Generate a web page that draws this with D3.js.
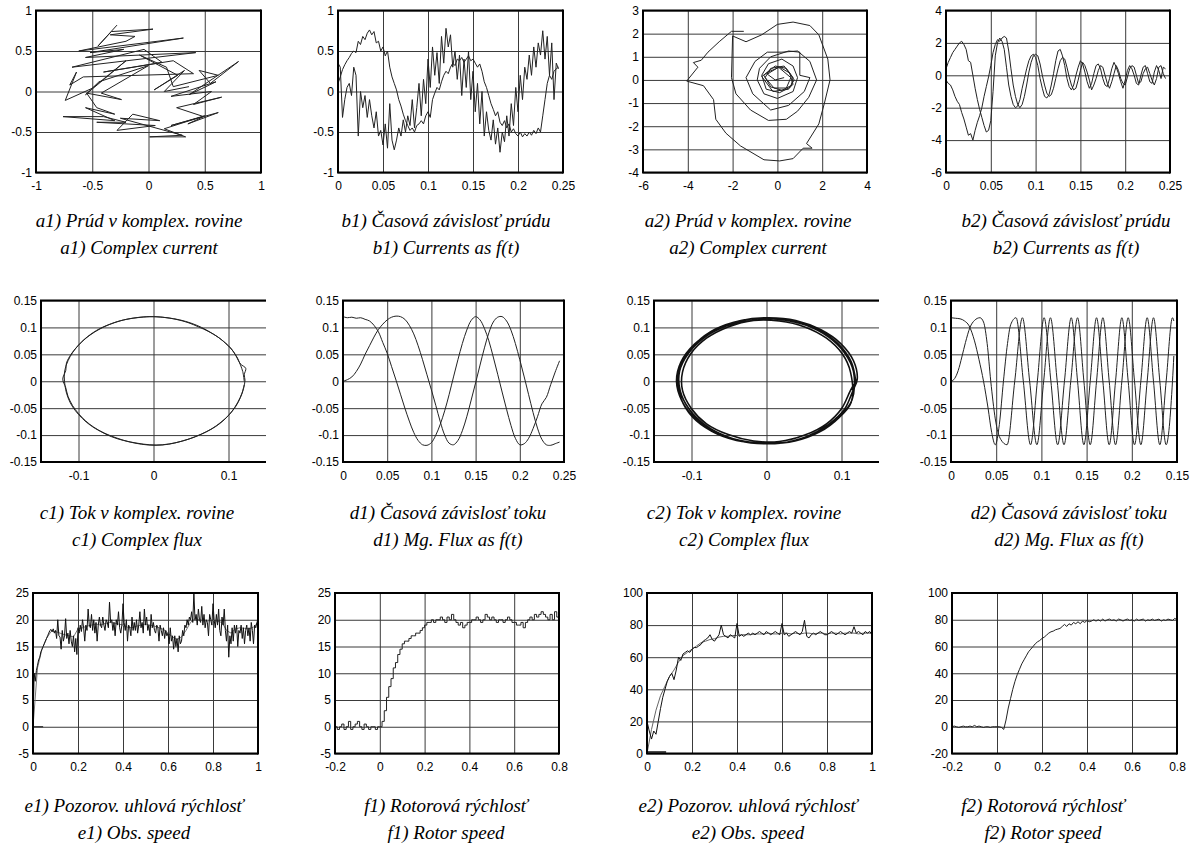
<!DOCTYPE html>
<html>
<head>
<meta charset="utf-8">
<script src="https://cdn.jsdelivr.net/npm/d3@7"></script>
<style>
body { margin: 0; background: #fff; }
svg { display: block; }
.cap { font-family: "Liberation Serif", "Times New Roman", serif; font-style: italic; font-size: 19px; fill: #000; }
</style>
</head>
<body>
<svg id="fig" width="1194" height="847"></svg>
<script>
// ---- data ----

// a1: complex current (x, y)
var a1Path = [[-0.28,0.82],[-0.45,0.56],[-0.33,0.74],[0.04,0.77],[-0.34,0.70],[-0.12,0.68],[-0.2,0.62],[-0.62,0.50],[0.31,0.66],[-0.52,0.48],[-0.22,0.52],[-0.56,0.42],[0.42,0.48],[-0.68,0.30],[-0.04,0.52],[0.12,0.36],[-0.4,0.24],[0.22,0.38],[0.4,0.22],[-0.58,0.18],[-0.7,0.08],[-0.64,0.24],[-0.74,-0.11],[-0.5,0.04],[-0.2,0.38],[-0.56,-0.04],[-0.44,0.12],[0.0,0.32],[-0.42,-0.02],[-0.24,-0.1],[-0.55,-0.02],[-0.46,-0.2],[-0.3,-0.28],[-0.56,-0.2],[-0.3,-0.36],[-0.76,-0.31],[-0.4,-0.31],[-0.2,-0.38],[-0.46,-0.38],[0.06,-0.42],[-0.28,-0.48],[-0.14,-0.28],[0.1,-0.36],[-0.25,-0.33],[0.3,-0.54],[0.01,-0.56],[0.33,-0.56],[0.14,-0.46],[0.5,-0.3],[0.2,-0.42],[0.62,-0.26],[0.35,-0.4],[0.49,-0.31],[0.25,-0.2],[0.65,-0.07],[0.4,-0.16],[0.56,0.0],[0.2,-0.06],[0.6,0.12],[0.36,-0.04],[0.8,0.37],[0.55,0.1],[0.45,0.26],[0.62,0.2],[0.22,0.06],[0.16,0.3],[-0.08,0.45],[0.26,0.2],[0.05,0.02],[0.32,0.26],[0.14,0.0],[0.36,0.06]];

// b1: currents, sampled every 2.5 ms
var b1Step = 0.0025;
var b1A = [0.10,0.18,0.27,0.33,0.38,0.42,0.47,0.50,0.48,0.62,0.58,0.68,0.64,0.72,0.76,0.70,0.74,0.60,0.62,0.50,0.55,0.44,0.50,0.30,0.18,0.10,0.02,-0.10,-0.18,-0.28,-0.36,-0.42,-0.48,-0.45,-0.50,-0.42,-0.40,-0.36,-0.40,-0.30,-0.25,-0.32,-0.10,-0.02,0.05,0.02,0.12,0.20,0.25,0.22,0.30,0.35,0.32,0.40,0.38,0.42,0.36,0.40,0.44,0.38,0.40,0.35,0.30,0.34,0.25,0.12,0.05,-0.05,-0.15,-0.22,-0.30,-0.25,-0.38,-0.42,-0.36,-0.45,-0.40,-0.50,-0.46,-0.52,-0.55,-0.50,-0.56,-0.52,-0.55,-0.50,-0.54,-0.48,-0.52,-0.45,-0.50,-0.30,-0.10,0.10,0.20,0.15,0.25,0.28,0.30];
var b1B = [0.35,0.30,-0.32,-0.10,0.05,0.10,-0.05,0.30,0.20,-0.55,0.00,-0.20,-0.05,-0.32,-0.10,-0.30,-0.45,-0.25,-0.55,-0.48,-0.66,-0.40,-0.70,-0.15,-0.60,-0.72,-0.60,-0.45,-0.55,-0.35,-0.50,-0.30,-0.42,-0.10,-0.45,-0.20,0.10,-0.30,0.15,-0.15,0.40,0.05,0.55,0.20,0.48,0.10,0.68,0.35,0.78,0.55,0.70,0.30,0.50,0.15,0.45,-0.05,0.40,0.05,0.50,-0.10,0.25,-0.25,0.10,-0.40,0.00,-0.55,-0.25,-0.48,-0.60,-0.35,-0.65,-0.45,-0.75,-0.50,-0.62,-0.30,-0.55,-0.15,-0.42,0.05,-0.25,0.20,-0.10,0.30,0.15,0.45,0.20,0.55,0.30,0.60,0.45,0.75,0.40,0.68,0.20,0.60,-0.10,0.35,0.28];

// a2: complex current, second drive (x, y)
var a2Path = [[-1.5,2.1],[-2.05,2.1],[-2.6,1.65],[-3.1,1.2],[-3.4,0.85],[-3.75,0.75],[-3.55,0.55],[-4.05,-0.05],[-3.3,-0.25],[-2.85,-0.85],[-2.75,-1.7],[-2.3,-2.3],[-1.65,-2.85],[-0.6,-3.45],[0.1,-3.5],[0.7,-3.4],[1.15,-2.95],[1.55,-2.95],[1.3,-2.75],[1.85,-1.9],[2.1,-1.0],[2.35,0.0],[2.25,0.9],[1.85,1.95],[1.45,2.35],[0.7,2.5],[0.0,2.4],[-0.7,1.95],[-1.4,1.65],[-2.0,1.9],[-2.05,0.1],[-1.85,-0.6],[-1.2,-1.3],[-0.4,-1.75],[0.4,-1.7],[0.9,-1.35],[1.4,-0.75],[1.75,0.0],[1.45,0.8],[0.9,1.25],[0.2,1.2],[-0.45,1.2],[-1.0,0.8],[-1.4,0.1],[-1.1,-0.6],[-0.3,-1.3],[0.5,-1.1],[1.2,-0.5],[1.45,0.1],[1.0,0.2],[1.0,1.2],[0.5,1.25],[-0.3,1.0],[-0.8,0.5],[-0.9,0.0],[-0.6,-0.6],[0.0,-0.8],[0.7,-0.5],[0.9,0.1],[0.7,0.6],[0.2,0.9],[-0.4,0.7],[-0.7,0.2],[-0.5,-0.4],[0.1,-0.55],[0.6,-0.3],[0.7,0.1],[0.4,0.5],[-0.1,0.6],[-0.5,0.3],[-0.6,0.2],[-0.3,-0.3],[0.2,-0.45],[0.7,-0.2],[0.55,0.3],[0.1,0.55],[-0.4,0.35],[-0.7,0.15],[-0.2,-0.5],[0.5,-0.4],[0.75,0.0],[0.3,0.6],[-0.3,0.5],[-0.55,0.1],[-0.15,-0.35],[0.4,-0.35],[0.6,0.1],[0.05,0.55],[-0.45,0.25],[-0.1,0.0],[0.3,0.1]];

// b2: currents, second drive
var b2Step = 0.0025;
var b2A = [0.4,0.8,1.1,1.4,1.6,1.8,2.0,2.1,1.9,1.6,0.9,0.8,0.0,-0.8,-1.5,-2.1,-2.6,-3.1,-3.5,-3.4,-2.8,-1.0,1.2,2.0,2.3,2.1,1.6,0.5,-0.6,-1.3,-1.8,-2.0,-1.9,-1.5,-0.8,-0.2,0.4,0.9,1.2,1.3,1.1,0.6,-0.2,-0.8,-1.3,-1.4,-1.2,-0.6,0.1,0.9,1.5,1.6,1.2,0.6,-0.2,-0.7,-0.9,-0.6,0.0,0.5,0.9,0.7,0.2,-0.4,-0.8,-0.5,0.1,0.6,0.7,0.4,-0.2,-0.6,-0.7,-0.2,0.4,0.8,0.5,0.1,-0.4,-0.8,-0.3,0.3,0.6,0.4,0.0,-0.5,-0.6,0.0,0.5,0.6,0.1,-0.4,-0.5,0.2,0.6,0.3,-0.2,0.5,0.4];
var b2B = [-0.3,-0.5,-0.6,-0.9,-1.3,-1.6,-1.8,-2.3,-2.7,-3.2,-3.7,-3.6,-4.0,-3.4,-2.9,-2.5,-2.0,-1.3,-0.7,-0.1,0.6,1.4,1.9,2.2,2.1,2.3,2.4,2.3,1.5,0.4,-0.6,-1.3,-1.8,-2.0,-1.8,-1.3,-0.6,0.2,0.8,1.2,1.3,1.2,0.7,0.0,-0.6,-1.1,-1.3,-1.2,-0.8,-0.2,0.4,0.9,1.1,1.0,0.5,-0.1,-0.6,-0.9,-0.8,-0.3,0.3,0.8,0.6,0.2,-0.3,-0.9,-0.6,-0.2,0.3,0.6,0.5,0.0,-0.5,-0.8,-0.4,0.1,0.6,0.3,-0.2,-0.5,-0.6,-0.1,0.4,0.6,0.5,0.0,-0.5,-0.4,0.1,0.4,0.5,0.1,-0.3,-0.6,-0.2,0.5,0.6,0.1,-0.2];

// c1: flux in complex plane (two passes)
var c1Path = [[0.121,0.000],[0.119,0.018],[0.116,0.030],[0.112,0.043],[0.106,0.056],[0.098,0.068],[0.088,0.080],[0.077,0.090],[0.064,0.100],[0.050,0.108],[0.035,0.114],[0.018,0.118],[0.000,0.120],[-0.018,0.119],[-0.036,0.115],[-0.052,0.109],[-0.066,0.101],[-0.079,0.091],[-0.090,0.080],[-0.100,0.067],[-0.108,0.053],[-0.114,0.038],[-0.118,0.022],[-0.119,0.008],[-0.118,-0.008],[-0.116,-0.022],[-0.111,-0.040],[-0.104,-0.055],[-0.095,-0.069],[-0.084,-0.082],[-0.071,-0.093],[-0.056,-0.103],[-0.040,-0.110],[-0.022,-0.115],[-0.005,-0.118],[0.012,-0.118],[0.030,-0.114],[0.048,-0.107],[0.064,-0.098],[0.078,-0.088],[0.090,-0.076],[0.101,-0.062],[0.110,-0.046],[0.116,-0.030],[0.120,-0.014],[0.122,0.002],
  [0.121,0.012],[0.123,0.024],[0.116,0.032],[0.110,0.047],[0.104,0.060],[0.096,0.071],[0.086,0.082],[0.074,0.092],[0.060,0.101],[0.046,0.109],[0.030,0.115],[0.012,0.119],[-0.005,0.120],[-0.022,0.118],[-0.040,0.114],[-0.056,0.107],[-0.070,0.099],[-0.082,0.089],[-0.093,0.077],[-0.102,0.064],[-0.110,0.050],[-0.116,0.034],[-0.117,0.020],[-0.121,0.004],[-0.117,-0.012],[-0.114,-0.028],[-0.108,-0.045],[-0.100,-0.060],[-0.091,-0.073],[-0.080,-0.085],[-0.066,-0.096],[-0.050,-0.105],[-0.034,-0.112],[-0.016,-0.117],[0.002,-0.119],[0.020,-0.117],[0.036,-0.112],[0.054,-0.104],[0.069,-0.095],[0.083,-0.084],[0.094,-0.072],[0.104,-0.057],[0.112,-0.040],[0.118,-0.022],[0.121,-0.006]];

// d1: flux components, sampled every 5 ms
var d1Step = 0.005;
var d1A = [0.120,0.118,0.119,0.117,0.118,0.115,0.112,0.104,0.092,0.072,0.052,0.027,0.002,-0.024,-0.050,-0.074,-0.095,-0.110,-0.118,-0.119,-0.114,-0.100,-0.080,-0.055,-0.025,0.008,0.040,0.070,0.095,0.113,0.120,0.114,0.098,0.075,0.045,0.013,-0.020,-0.052,-0.082,-0.106,-0.118,-0.116,-0.106,-0.088,-0.066,-0.042,-0.030,-0.006,0.017,0.038];
var d1B = [0.000,0.003,0.008,0.018,0.032,0.050,0.066,0.082,0.096,0.106,0.114,0.119,0.121,0.120,0.115,0.104,0.088,0.066,0.040,0.012,-0.016,-0.045,-0.075,-0.100,-0.115,-0.118,-0.110,-0.092,-0.066,-0.035,-0.003,0.030,0.062,0.090,0.110,0.119,0.120,0.112,0.095,0.070,0.040,0.008,-0.025,-0.058,-0.087,-0.108,-0.118,-0.119,-0.116,-0.113];

// c2: flux in complex plane, second drive (several loops)
var c2Path = [[0.119,0.000],[0.113,0.036],[0.096,0.069],[0.070,0.095],[0.037,0.111],[0.000,0.117],[-0.037,0.112],[-0.070,0.094],[-0.096,0.069],[-0.114,0.036],[-0.120,0.000],[-0.113,-0.036],[-0.096,-0.068],[-0.069,-0.094],[-0.036,-0.111],[0.002,-0.116],[0.038,-0.111],[0.071,-0.094],[0.097,-0.067],[0.114,-0.035],
  [0.116,0.018],[0.104,0.053],[0.083,0.082],[0.053,0.104],[0.018,0.115],[-0.018,0.116],[-0.053,0.103],[-0.082,0.082],[-0.104,0.052],[-0.116,0.018],[-0.115,-0.018],[-0.103,-0.052],[-0.082,-0.081],[-0.052,-0.103],[-0.018,-0.114],[0.018,-0.115],[0.053,-0.103],[0.082,-0.081],[0.104,-0.052],[0.115,-0.018],
  [0.121,0.004],[0.116,0.038],[0.099,0.070],[0.072,0.096],[0.039,0.113],[0.003,0.118],[-0.034,0.113],[-0.068,0.097],[-0.094,0.071],[-0.112,0.039],[-0.118,0.004],[-0.114,-0.032],[-0.099,-0.066],[-0.073,-0.093],[-0.040,-0.110],[-0.003,-0.115],[0.034,-0.112],[0.067,-0.096],[0.094,-0.071],[0.113,-0.039],
  [0.112,0.017],[0.101,0.051],[0.080,0.080],[0.051,0.101],[0.017,0.112],[-0.017,0.113],[-0.051,0.101],[-0.080,0.080],[-0.101,0.051],[-0.112,0.017],[-0.112,-0.017],[-0.100,-0.051],[-0.080,-0.079],[-0.051,-0.099],[-0.017,-0.111],[0.017,-0.112],[0.051,-0.100],[0.080,-0.079],[0.100,-0.051],[0.112,-0.017],[0.119,0.000]];

// d2: flux components, second drive (t, value) at peaks and crossings
var d2A = [[0,0.118],[0.005,0.117],[0.010,0.116],[0.015,0.112],[0.020,0.103],[0.026,0.075],[0.031,0.040],[0.036,0],[0.041,-0.050],[0.045,-0.095],[0.049,-0.118],[0.0535,-0.080],[0.058,0],[0.0625,0.070],[0.066,0.105],[0.072,0.118],[0.080,0],[0.088,-0.118],[0.0955,0],[0.103,0.118],[0.1105,0],[0.118,-0.118],[0.1255,0],[0.133,0.118],[0.140,0],[0.147,-0.118],[0.154,0],[0.161,0.118],[0.168,0],[0.175,-0.118],[0.182,0],[0.189,0.118],[0.196,0],[0.203,-0.118],[0.210,0],[0.217,0.118],[0.224,0],[0.231,-0.118],[0.238,0],[0.245,0.118],[0.2465,0.112]];
var d2B = [[0,0],[0.004,0.005],[0.008,0.020],[0.012,0.045],[0.016,0.072],[0.021,0.100],[0.026,0.113],[0.032,0.118],[0.036,0.110],[0.040,0.070],[0.044,0],[0.049,-0.070],[0.055,-0.108],[0.062,-0.118],[0.0705,0],[0.079,0.118],[0.087,0],[0.095,-0.118],[0.1025,0],[0.110,0.118],[0.1175,0],[0.125,-0.118],[0.1325,0],[0.140,0.118],[0.147,0],[0.154,-0.118],[0.161,0],[0.168,0.118],[0.175,0],[0.182,-0.118],[0.189,0],[0.196,0.118],[0.203,0],[0.210,-0.118],[0.217,0],[0.224,0.118],[0.231,0],[0.238,-0.118],[0.245,0],[0.2465,0.047]];

// e1: observed speed, noisy estimate every 5 ms, filtered every 20 ms
var e1Step = 0.005;
var e1Noisy = [0,10,8.5,10.5,11.5,12.5,13,14,14.5,15,
  15.5,16,16.5,17,17.5,18,18.2,17.8,18.3,17.5,
  18,16.5,20,17,16.8,14.5,18,16,17,20.2,
  16.5,17.5,15.5,18,16,15,17,14,16.5,13.5,
  18.5,17.5,19,17.8,20,18.5,16,19,18,22,
  19,18.5,21,18,20,17.5,19.5,16,19,20.5,
  19,18.5,20.5,19,18,20,19.5,18.5,23.3,19.5,
  20,18,19.5,17,20,19,21.5,18.5,17.5,19,
  23,19.5,18,20,16,19,18.5,17,20.5,18,
  19.5,18,20,17.5,19,21.5,18.5,19.5,17.5,22,
  19,20.5,18,19,17,21,18.5,19.5,18,17.5,
  19,18.5,16,19,18,17,18.5,16.5,18,17,
  17.5,15.5,18.5,16,17,14.5,17,15,16.5,14,
  17,15.5,16,18,17,19,18.5,20,19,20.5,
  20,21.5,19.5,25,20,21,19,22,20,19.5,
  22.5,19,21,18.5,20,19.5,17,21,20,19,
  23,20,18.5,21,19,22,18,17,20.5,19,
  22,18,16,19,13,17,15.5,18.5,16,19,
  17.5,19,15,18,17.5,19,16.5,18.5,15.5,18,
  19,17,18.5,16,19.5,18,15.5,19,18.5,19.5,
  20];
var e1Step2 = 0.02;
var e1Smooth = [0,11,14.5,16.5,17.8,17.8,17.5,17.2,17.0,16.8,18.3,18.5,18.8,19.0,19.2,19.0,19.3,19.5,19.4,19.2,19.0,18.6,18.5,18.8,19.0,19.2,19.0,18.8,18.5,18.2,17.5,16.8,16.3,16.8,18.0,19.5,20.2,20.0,19.8,19.8,19.9,19.7,19.5,18.0,17.5,18.3,18.5,18.4,18.3,18.6,19.5];
var e1Ref = [[0,0],[0.045,0]];

// f1: rotor speed, every 10 ms from -0.2 s
var f1Start = -0.2, f1Step = 0.01;
var f1Speed = [0,-0.5,0,0.5,-0.5,0,1,-0.5,0,0.5,
  1,0,-0.5,0.5,0,-0.5,0,0,-0.5,0,
  0,1,3,5.5,7.5,9,11,12,13.5,14.5,
  15.5,16,16,16.5,17,17,17.5,17.5,18,18.5,
  19,19.5,19.5,20,19.5,20,20,20.5,20,19.5,
  20.5,20,21,20,19.5,19,19.5,18.5,19,19.5,
  19.5,20,20,20.5,20,19.5,20,21,20.5,20,
  20.5,20,19.5,20,20,19.5,20,20.5,20,19.5,
  19.5,19,19,19.5,18.5,19.5,20,20.5,20,21,
  20.5,21,21.5,21,20.5,20,21,20,21.5,20.5,20];

// e2: observed speed, second drive
var e2Step = 0.01;
var e2Noisy = [20,14,9,14,12,20,28,35,40,45,
  48,50,46,52,60,58,62,63,64,63,
  65,66,66,67,68,70,71,72,74,71,
  70,72,74,80,74,73,72,74,73,72,
  81,73,74,73,74,75,74,75,74,75,
  76,75,74,76,75,74,75,76,75,74,
  81,74,75,73,74,75,76,75,74,76,
  83,73,72,74,75,74,75,76,75,74,
  74,75,76,75,74,75,76,75,74,75,
  76,75,79,75,76,75,74,76,75,76,
  74];
var e2Step2 = 0.02;
var e2Smooth = [0,15,27,36,42,48,52,57,61,63,65,67,69,70,71,71.5,72.5,73,73,73.5,73.5,74,74,74,74.5,74.5,74.5,75,74.5,74.5,75,75,74.5,75,74.5,75,75,74.5,75,75,74.5,75,75,74.5,75,75,75,74.5,75,75,75];
var e2Ref = [[0,1],[0.085,1]];

// f2: rotor speed, second drive
var f2Start = -0.2, f2Step = 0.01;
var f2Speed = [0,0.5,0,-0.5,0,0.5,0,0,0.5,0,
  1,0,0.5,0,-0.5,0,0,-0.5,0,0,
  0,0,-0.5,-2,5,14,21,28,34,39,
  43,47,50,53,56,58,60,62,63.5,64.5,
  66,67,68.5,70,71,71.5,72.5,73,73.5,75,
  76.5,75,77,76,78,77,78.5,77,79,78,
  79.5,78.5,79,80,79,80,79,80.5,79,80,
  80.5,79.5,80,79,80.5,80,79,80,80.5,79.5,
  80,79,80.5,79.5,80,80.5,79,80,79.5,80.5,
  79.5,80,80.5,79,80,79.5,80.5,80,79.5,81,80];

// axis ticks and labels
var ticksPm1 = [-1,-0.5,0,0.5,1], labPm1 = ["-1","-0.5","0","0.5","1"];
var ticksT25 = [0,0.05,0.1,0.15,0.2,0.25], labT25 = ["0","0.05","0.1","0.15","0.2","0.25"];
var labT25d2 = ["0","0.05","0.1","0.15","0.2","0.15"];
var ticksA2x = [-6,-4,-2,0,2,4], labA2x = ["-6","-4","-2","0","2","4"];
var ticksA2y = [-4,-3,-2,-1,0,1,2,3], labA2y = ["-4","-3","-2","-1","0","1","2","3"];
var ticksB2y = [-6,-4,-2,0,2,4], labB2y = ["-6","-4","-2","0","2","4"];
var ticksFluxY = [-0.15,-0.1,-0.05,0,0.05,0.1,0.15], labFluxY = ["-0.15","-0.1","-0.05","0","0.05","0.1","0.15"];
var ticksFluxX = [-0.1,0,0.1], labFluxX = ["-0.1","0","0.1"];
var ticksT1 = [0,0.2,0.4,0.6,0.8,1], labT1 = ["0","0.2","0.4","0.6","0.8","1"];
var ticksTm = [-0.2,0,0.2,0.4,0.6,0.8], labTm = ["-0.2","0","0.2","0.4","0.6","0.8"];
var ticksS25 = [-5,0,5,10,15,20,25], labS25 = ["-5","0","5","10","15","20","25"];
var ticksS100 = [0,20,40,60,80,100], labS100 = ["0","20","40","60","80","100"];
var ticksS100m = [-20,0,20,40,60,80,100], labS100m = ["-20","0","20","40","60","80","100"];

// ---- helpers ----
function sampled(vals, start, step) {
  return vals.map(function(v, i) { return [start + i * step, v]; });
}

var svg = d3.select("#fig");
var clipId = 0;

function panel(p) {
  var x = d3.scaleLinear().domain(p.xd).range([p.l, p.r]);
  var y = d3.scaleLinear().domain(p.yd).range([p.b, p.t]);
  var w = p.r - p.l, h = p.b - p.t;
  var g = svg.append("g");

  var xa = g.append("g").attr("transform", "translate(0," + p.b + ")")
    .call(d3.axisBottom(x).tickValues(p.xt).tickFormat(function(d, i) { return p.xl[i]; }).tickSize(-h).tickPadding(9));
  var ya = g.append("g").attr("transform", "translate(" + p.l + ",0)")
    .call(d3.axisLeft(y).tickValues(p.yt).tickFormat(function(d, i) { return p.yl[i]; }).tickSize(-w).tickPadding(4));
  [xa, ya].forEach(function(a) {
    a.attr("font-family", '"Liberation Sans", Arial, sans-serif').attr("font-size", 12).attr("color", "#000");
    a.select(".domain").remove();
    a.selectAll("line").attr("stroke", "#3a3a3a").attr("stroke-width", 1);
  });

  clipId += 1;
  svg.append("clipPath").attr("id", "clip" + clipId)
    .append("rect").attr("x", p.l).attr("y", p.t).attr("width", w).attr("height", h);

  var lines = g.append("g").attr("clip-path", "url(#clip" + clipId + ")");
  p.series.forEach(function(s) {
    var line = d3.line()
      .x(function(d) { return x(d[0]); })
      .y(function(d) { return y(d[1]); })
      .curve(s.curve || d3.curveLinear);
    lines.append("path")
      .attr("d", line(s.data))
      .attr("fill", "none")
      .attr("stroke", s.color || "#222")
      .attr("stroke-width", s.width || 1)
      .attr("stroke-linejoin", "round");
  });

  // frame
  var frame = g.append("g").attr("stroke", "#000").attr("stroke-width", 2).attr("fill", "none");
  frame.append("path").attr("d", "M" + p.r + "," + p.t + "H" + p.l + "V" + p.b + "H" + p.r);
  if (!p.openRight) frame.append("line").attr("x1", p.r).attr("x2", p.r).attr("y1", p.t - 1).attr("y2", p.b + 1);

  g.append("text").attr("class", "cap").attr("x", p.cx).attr("y", p.cy1).attr("text-anchor", "middle").text(p.cap1);
  g.append("text").attr("class", "cap").attr("x", p.cx).attr("y", p.cy2).attr("text-anchor", "middle").text(p.cap2);
}

var row1 = {t: 10.5, b: 172.5, cy1: 227, cy2: 254};
var row2 = {t: 300.5, b: 462, cy1: 519, cy2: 546};
var row3 = {t: 593, b: 753.5, cy1: 812, cy2: 839};

function P(row, o) { o.t = row.t; o.b = row.b; o.cy1 = row.cy1; o.cy2 = row.cy2; return o; }

panel(P(row1, {l: 36, r: 261, xd: [-1, 1], yd: [-1, 1], xt: ticksPm1, xl: labPm1, yt: ticksPm1, yl: labPm1,
  series: [{data: a1Path}], cx: 139,
  cap1: "a1) Prúd v komplex. rovine", cap2: "a1) Complex current"}));

panel(P(row1, {l: 338, r: 563, xd: [0, 0.25], yd: [-1, 1], xt: ticksT25, xl: labT25, yt: ticksPm1, yl: labPm1,
  series: [{data: sampled(b1A, 0, b1Step)}, {data: sampled(b1B, 0, b1Step)}], cx: 446,
  cap1: "b1) Časová závislosť prúdu", cap2: "b1) Currents as f(t)"}));

panel(P(row1, {l: 643, r: 867, xd: [-6, 4], yd: [-4, 3], xt: ticksA2x, xl: labA2x, yt: ticksA2y, yl: labA2y,
  series: [{data: a2Path}], cx: 748,
  cap1: "a2) Prúd v komplex. rovine", cap2: "a2) Complex current"}));

panel(P(row1, {l: 946, r: 1170, xd: [0, 0.25], yd: [-6, 4], xt: ticksT25, xl: labT25, yt: ticksB2y, yl: labB2y,
  series: [{data: sampled(b2A, 0, b2Step)}, {data: sampled(b2B, 0, b2Step)}], cx: 1066,
  cap1: "b2) Časová závislosť prúdu", cap2: "b2) Currents as f(t)"}));

panel(P(row2, {l: 41, r: 266, xd: [-0.15, 0.15], yd: [-0.15, 0.15], xt: ticksFluxX, xl: labFluxX, yt: ticksFluxY, yl: labFluxY,
  series: [{data: c1Path, curve: d3.curveCatmullRom}], cx: 137, openRight: true,
  cap1: "c1) Tok v komplex. rovine", cap2: "c1) Complex flux"}));

panel(P(row2, {l: 343, r: 564, xd: [0, 0.25], yd: [-0.15, 0.15], xt: ticksT25, xl: labT25, yt: ticksFluxY, yl: labFluxY,
  series: [{data: sampled(d1A, 0, d1Step), curve: d3.curveCatmullRom}, {data: sampled(d1B, 0, d1Step), curve: d3.curveCatmullRom}], cx: 448,
  cap1: "d1) Časová závislosť toku", cap2: "d1) Mg. Flux as f(t)"}));

panel(P(row2, {l: 654, r: 879, xd: [-0.15, 0.15], yd: [-0.15, 0.15], xt: ticksFluxX, xl: labFluxX, yt: ticksFluxY, yl: labFluxY,
  series: [{data: c2Path, curve: d3.curveCatmullRom, width: 1.6, color: "#111"}], cx: 744, openRight: true,
  cap1: "c2) Tok v komplex. rovine", cap2: "c2) Complex flux"}));

panel(P(row2, {l: 951, r: 1177, xd: [0, 0.25], yd: [-0.15, 0.15], xt: ticksT25, xl: labT25d2, yt: ticksFluxY, yl: labFluxY,
  series: [{data: d2A, curve: d3.curveMonotoneX}, {data: d2B, curve: d3.curveMonotoneX}], cx: 1069,
  cap1: "d2) Časová závislosť toku", cap2: "d2) Mg. Flux as f(t)"}));

panel(P(row3, {l: 33, r: 258, xd: [0, 1], yd: [-5, 25], xt: ticksT1, xl: labT1, yt: ticksS25, yl: labS25,
  series: [{data: sampled(e1Smooth, 0, e1Step2), color: "#777"}, {data: sampled(e1Noisy, 0, e1Step), color: "#111"}, {data: e1Ref, color: "#111"}], cx: 134,
  cap1: "e1) Pozorov. uhlová rýchlosť", cap2: "e1) Obs. speed"}));

panel(P(row3, {l: 335, r: 559, xd: [-0.2, 0.8], yd: [-5, 25], xt: ticksTm, xl: labTm, yt: ticksS25, yl: labS25,
  series: [{data: sampled(f1Speed, f1Start, f1Step), curve: d3.curveStepAfter}], cx: 446,
  cap1: "f1) Rotorová rýchlosť", cap2: "f1) Rotor speed"}));

panel(P(row3, {l: 647, r: 872, xd: [0, 1], yd: [0, 100], xt: ticksT1, xl: labT1, yt: ticksS100, yl: labS100,
  series: [{data: sampled(e2Smooth, 0, e2Step2), color: "#666"}, {data: sampled(e2Noisy, 0, e2Step), color: "#111"}, {data: e2Ref, color: "#111", width: 1.5}], cx: 748,
  cap1: "e2) Pozorov. uhlová rýchlosť", cap2: "e2) Obs. speed"}));

panel(P(row3, {l: 952, r: 1177, xd: [-0.2, 0.8], yd: [-20, 100], xt: ticksTm, xl: labTm, yt: ticksS100m, yl: labS100m,
  series: [{data: sampled(f2Speed, f2Start, f2Step)}], cx: 1043,
  cap1: "f2) Rotorová rýchlosť", cap2: "f2) Rotor speed"}));
</script>
</body>
</html>
